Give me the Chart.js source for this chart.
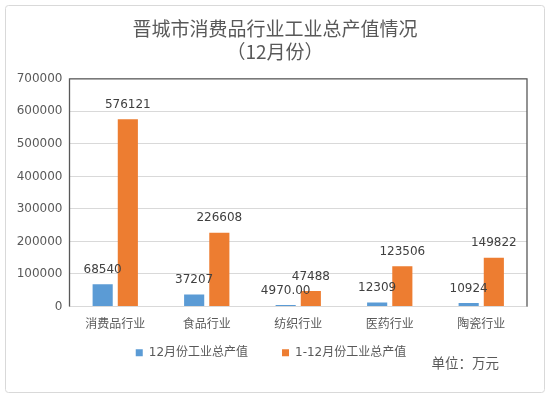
<!DOCTYPE html>
<html><head><meta charset="utf-8">
<script src="https://cdn.jsdelivr.net/npm/chart.js@4.4.1/dist/chart.umd.min.js"></script>
<style>html,body{margin:0;padding:0;background:#fff;}#wrap{width:550px;height:398px;position:relative;}</style>
</head><body><div id="wrap"><canvas id="c" width="550" height="398"></canvas></div>
<script>
const categories = ["消费品行业", "食品行业", "纺织行业", "医药行业", "陶瓷行业"];
const decValues = [68540, 37207, 4970, 12309, 10924];
const decLabels = ["68540", "37207", "4970.00", "12309", "10924"];
const yearValues = [576121, 226608, 47488, 123506, 149822];
const yearLabels = ["576121", "226608", "47488", "123506", "149822"];
const seriesNames = ["12月份工业总产值", "1-12月份工业总产值"];
const titleLines = ["晋城市消费品行业工业总产值情况", "（12月份）"];
const unitText = "单位：万元";
const yMin = 0, yMax = 700000, yStep = 100000;

const CJK = "'Noto Sans CJK SC', 'Noto Sans', sans-serif";
const NUM = "'DejaVu Sans', sans-serif";
const MIX = "'DejaVu Sans', 'Noto Sans CJK SC', sans-serif";
const TXT = "#595959";
const LEGEND_PAD = 34;

const decor = {
  id: "decor",
  afterLayout(chart) {
    const t = chart.titleBlock;
    if (t) { t.left = 0; t.right = chart.width; }
    const lg = chart.legend;
    if (lg) {
      const dy = 352.7 - (lg.top + LEGEND_PAD + 6);
      lg.top += dy; lg.bottom += dy;
      lg.left = 0; lg.right = 542;
    }
  },
  beforeDraw(chart) {
    const ctx = chart.ctx;
    ctx.save();
    ctx.fillStyle = "#fff";
    ctx.fillRect(0, 0, chart.width, chart.height);
    ctx.strokeStyle = "#d9d9d9";
    ctx.lineWidth = 1;
    ctx.beginPath();
    ctx.roundRect(5.5, 5.5, 539, 387, 3);
    ctx.stroke();
    ctx.restore();
  },
  afterDatasetsDraw(chart) {
    const ctx = chart.ctx;
    const a = chart.chartArea;
    ctx.save();
    ctx.strokeStyle = "#595959";
    ctx.lineWidth = 1.3;
    ctx.beginPath();
    ctx.moveTo(a.left, a.bottom);
    ctx.lineTo(a.left, a.top);
    ctx.lineTo(a.right, a.top);
    ctx.lineTo(a.right, a.bottom);
    ctx.stroke();
    // data labels
    ctx.fillStyle = "#404040";
    ctx.font = "12px " + NUM;
    ctx.textAlign = "center";
    ctx.textBaseline = "middle";
    const lbls = [decLabels, yearLabels];
    chart.data.datasets.forEach((ds, di) => {
      const meta = chart.getDatasetMeta(di);
      meta.data.forEach((el, i) => {
        ctx.fillText(lbls[di][i], el.x, el.y - 14.5);
      });
    });
    // unit
    ctx.fillStyle = TXT;
    ctx.font = "13.5px " + CJK;
    ctx.textAlign = "left";
    ctx.fillText(unitText, 431.5, 362.5);
    ctx.restore();
  }
};

new Chart(document.getElementById("c"), {
  type: "bar",
  data: {
    labels: categories,
    datasets: [
      { label: seriesNames[0], data: decValues, backgroundColor: "#5B9BD5", categoryPercentage: 0.55, barPercentage: 0.8 },
      { label: seriesNames[1], data: yearValues, backgroundColor: "#ED7D31", categoryPercentage: 0.55, barPercentage: 0.8 }
    ]
  },
  options: {
    responsive: false,
    devicePixelRatio: 1,
    animation: false,
    layout: { padding: { left: 0, right: 23, top: 0, bottom: 5.5 } },
    plugins: {
      title: {
        display: true,
        text: titleLines,
        color: TXT,
        font: { family: CJK, size: 19, weight: "normal", lineHeight: 1.23 },
        padding: { top: 16.6, bottom: 15.5 }
      },
      legend: {
        position: "bottom",
        labels: {
          color: TXT,
          font: { family: MIX, size: 12 },
          boxWidth: 7, boxHeight: 7,
          padding: LEGEND_PAD
        }
      },
      tooltip: { enabled: false }
    },
    scales: {
      x: {
        afterFit(s) { s.height = 30; },
        grid: { display: false },
        border: { color: "#d9d9d9" },
        ticks: { color: TXT, font: { family: CJK, size: 12 }, padding: 2 }
      },
      y: {
        min: yMin, max: yMax,
        afterFit(s) { s.width = 69.5; },
        grid: { color: "#d9d9d9", drawTicks: false },
        border: { display: false },
        ticks: { stepSize: yStep, color: TXT, font: { family: NUM, size: 12 }, padding: 7,
          callback: v => String(v) }
      }
    }
  },
  plugins: [decor]
});
</script></body></html>
